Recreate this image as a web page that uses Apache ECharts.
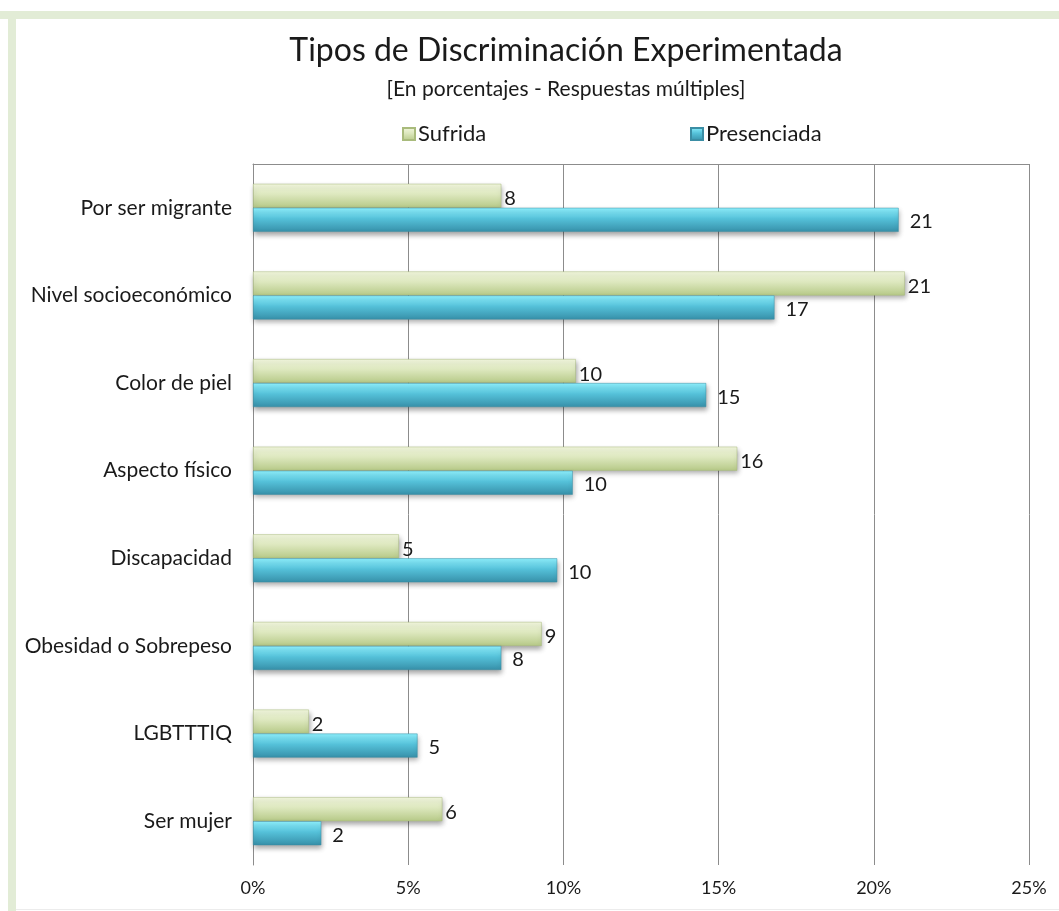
<!DOCTYPE html>
<html>
<head>
<meta charset="utf-8">
<script src="https://cdn.jsdelivr.net/npm/echarts@6/dist/echarts.min.js"></script>
<style>
  html, body { margin: 0; padding: 0; background: #ffffff; }
  #chart { width: 1059px; height: 911px; }
</style>
</head>
<body>
<div id="chart"></div>
<script>
const titleText = 'Tipos de Discriminación Experimentada';
const subtitleText = '[En porcentajes - Respuestas múltiples]';
const categories = ['Por ser migrante', 'Nivel socioeconómico', 'Color de piel', 'Aspecto físico', 'Discapacidad', 'Obesidad o Sobrepeso', 'LGBTTTIQ', 'Ser mujer'];
const seriesNames = ['Sufrida', 'Presenciada'];
const sufrida = [8.0, 21.0, 10.4, 15.6, 4.7, 9.3, 1.8, 6.1];
const presenciada = [20.8, 16.8, 14.6, 10.3, 9.8, 8.0, 5.3, 2.2];
const axisMin = 0, axisMax = 25, axisStep = 5;

const FONT = "Lato, 'Open Sans', sans-serif";
const TXT = '#1a1a1a';
const greenGrad = new echarts.graphic.LinearGradient(0, 0, 0, 1, [
  { offset: 0, color: '#f3f8df' },
  { offset: 0.45, color: '#dce7bd' },
  { offset: 1, color: '#b6c987' }
]);
const blueGrad = new echarts.graphic.LinearGradient(0, 0, 0, 1, [
  { offset: 0, color: '#8ff2ff' },
  { offset: 0.45, color: '#55c1d9' },
  { offset: 1, color: '#3790a9' }
]);
const legendText = { fontFamily: FONT, fontSize: 22, color: TXT, padding: [0, 0, 0, -2] };

const chart = echarts.init(document.getElementById('chart'), null, { renderer: 'canvas' });
chart.setOption({
  animation: false,
  backgroundColor: '#ffffff',
  textStyle: { fontFamily: FONT },
  graphic: [
    { type: 'rect', shape: { x: 0, y: 11, width: 1059, height: 8 }, style: { fill: '#e2ecd6' }, silent: true },
    { type: 'rect', shape: { x: 8, y: 11, width: 8, height: 900 }, style: { fill: '#e2ecd6' }, silent: true },
    { type: 'rect', shape: { x: 16, y: 909, width: 1043, height: 1 }, style: { fill: '#ececec' }, silent: true }
  ],
  title: [
    { text: titleText, left: 561, top: 30, textAlign: 'center',
      textStyle: { fontFamily: FONT, fontSize: 32, fontWeight: 'normal', color: TXT } },
    { text: subtitleText, left: 561, top: 74, textAlign: 'center',
      textStyle: { fontFamily: FONT, fontSize: 21, fontWeight: 'normal', color: TXT } }
  ],
  legend: [
    { data: [seriesNames[0]], left: 397, top: 118, itemWidth: 12, itemHeight: 12, icon: 'rect', textStyle: legendText },
    { data: [seriesNames[1]], left: 685, top: 118, itemWidth: 12, itemHeight: 12, icon: 'rect', textStyle: legendText }
  ],
  grid: { left: 253, right: 30, top: 164, bottom: 46, containLabel: false },
  xAxis: [
    { type: 'value', min: axisMin, max: axisMax, interval: axisStep, position: 'bottom',
      axisLine: { show: false }, axisTick: { show: false },
      axisLabel: { formatter: '{value}%', fontSize: 18, color: TXT, margin: 14, fontFamily: FONT },
      splitLine: { show: true, lineStyle: { color: '#8c8c8c', width: 1 } } },
    { type: 'value', min: axisMin, max: axisMax, interval: axisStep, position: 'top',
      axisLine: { show: true, lineStyle: { color: '#8c8c8c', width: 1 } },
      axisTick: { show: false }, axisLabel: { show: false }, splitLine: { show: false } }
  ],
  yAxis: {
    type: 'category', data: categories, inverse: true,
    axisLine: { show: true, lineStyle: { color: '#8c8c8c' } },
    axisTick: { show: false },
    axisLabel: { fontSize: 21, color: TXT, margin: 21, fontFamily: FONT }
  },
  series: [
    { name: seriesNames[0], type: 'bar', data: sufrida, barWidth: 24, barGap: '0%',
      itemStyle: { color: greenGrad, borderColor: '#a9bb7c', borderWidth: 0.5,
        shadowColor: 'rgba(0,0,0,0.35)', shadowBlur: 5, shadowOffsetY: 3, shadowOffsetX: 1 },
      label: { show: true, position: 'right', distance: 3, offset: [0, 3],
        formatter: p => Math.round(p.value), fontSize: 20, color: TXT, fontFamily: FONT } },
    { name: seriesNames[1], type: 'bar', data: presenciada, barWidth: 24,
      itemStyle: { color: blueGrad, borderColor: '#3b8ea5', borderWidth: 0.5,
        shadowColor: 'rgba(0,0,0,0.35)', shadowBlur: 5, shadowOffsetY: 3, shadowOffsetX: 1 },
      label: { show: true, position: 'right', distance: 11, offset: [0, 2],
        formatter: p => Math.round(p.value), fontSize: 20, color: TXT, fontFamily: FONT } }
  ]
});
</script>
</body>
</html>
